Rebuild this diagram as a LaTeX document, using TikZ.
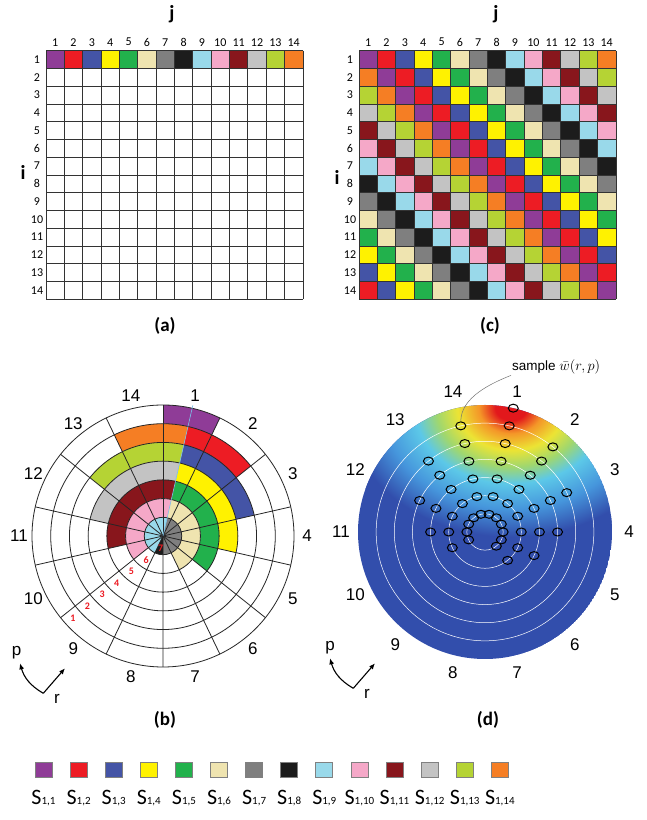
\documentclass[tikz,border=0pt]{standalone}
\usepackage{fontspec}
\setmainfont{Carlito}
\newfontfamily\labelfont{Liberation Sans}
\usepackage{xcolor}
\usepackage{tikz}
\usetikzlibrary{positioning,arrows.meta,shapes.geometric}
% colours of the 14 symbols
\definecolor{sc1}{RGB}{143,60,151}
\definecolor{sc2}{RGB}{237,28,36}
\definecolor{sc3}{RGB}{68,84,166}
\definecolor{sc4}{RGB}{255,242,0}
\definecolor{sc5}{RGB}{34,177,76}
\definecolor{sc6}{RGB}{239,228,176}
\definecolor{sc7}{RGB}{127,127,127}
\definecolor{sc8}{RGB}{28,28,28}
\definecolor{sc9}{RGB}{153,217,234}
\definecolor{sc10}{RGB}{245,168,200}
\definecolor{sc11}{RGB}{136,22,28}
\definecolor{sc12}{RGB}{195,195,195}
\definecolor{sc13}{RGB}{181,211,52}
\definecolor{sc14}{RGB}{245,126,36}
% heat map
\definecolor{heatbg}{RGB}{50,78,172}
\definecolor{heatred}{RGB}{226,24,28}
\definecolor{heatorange}{RGB}{244,150,40}
\definecolor{heatyellow}{RGB}{236,228,52}
\definecolor{heatlime}{RGB}{160,215,110}
\definecolor{heatcyan}{RGB}{92,200,232}
\definecolor{heatsky}{RGB}{70,150,220}
\definecolor{splitblue}{RGB}{120,190,232}
\pgfdeclareradialshading{heatspot}{\pgfpoint{0bp}{0bp}}{color(0bp)=(heatred); color(2.2bp)=(heatred); color(4.5bp)=(heatorange); color(7.5bp)=(heatyellow); color(10.5bp)=(heatlime); color(13.5bp)=(heatcyan); color(18bp)=(heatsky); color(23bp)=(heatbg); color(50bp)=(heatbg)}

\newcommand\ringcell[5]{%
  \fill[#1] ({#4}:{#3}) arc[start angle={#4}, end angle={#5}, radius={#3}]
    -- ({#5}:{#2}) arc[start angle={#5}, end angle={#4}, radius={#2}] -- cycle;}

\begin{document}
\begin{tikzpicture}[x=1bp, y=1bp,
  gnum/.style={font=\fontsize{12bp}{13bp}\selectfont, inner sep=0pt},
  axname/.style={font=\fontsize{20bp}{22bp}\selectfont\bfseries, inner sep=0pt},
  panel/.style={font=\fontsize{19bp}{21bp}\selectfont\bfseries, inner sep=0pt},
  gline/.style={draw=black!80, line width=0.8bp},
  pline/.style={draw=black!85, line width=0.8bp},
  plabel/.style={font=\labelfont\fontsize{17bp}{19bp}\selectfont, inner sep=0pt},
  ringno/.style={font=\fontsize{10bp}{11bp}\selectfont\bfseries, text=sc2, inner sep=0pt},
  sample/.style={ellipse, draw=black, line width=1bp, minimum width=10bp, minimum height=8bp, inner sep=0pt},
  rpaxis/.style={-{Latex[length=6bp,width=5bp]}, line width=1.1bp},
  legbox/.style={draw=black!50, line width=0.7bp, minimum width=17bp, minimum height=15bp, inner sep=0pt},
  legtext/.style={font=\fontsize{22bp}{24bp}\selectfont, inner sep=0pt, anchor=base}]
\fill[white] (0,0) rectangle (647,820);
\useasboundingbox (0,0) rectangle (647,820);

% (a) first row only
\begin{scope}[shift={(46,769.3)}]
  \foreach \j in {1,...,14}
    \fill[sc\j] ({(\j-1)*18.35},0) rectangle ++(18.35,-17.75);
  \foreach \k in {0,...,14} {
    \draw[gline] ({\k*18.35},0) -- ++(0,-248.5);
    \draw[gline] (0,{-\k*17.75}) -- ++(256.9,0);
  }
  \foreach \j in {1,...,14}
    \node[gnum] (acol\j) at ({(\j-0.5)*18.35},8.5) {\j};
  \foreach \i in {1,...,14}
    \node[gnum] (arow\i) at (-9,{-(\i-0.5)*17.75}) {\i};
\end{scope}
\node[axname] (aj) at (172,806) {j};
\node[axname] (ai) at (23,648) {i};
\node[panel] (pa) at (165,494) {(a)};

% (c) latin square
\begin{scope}[shift={(359,769.3)}]
  \foreach \i in {1,...,14}
    \foreach \j in {1,...,14} {
      \pgfmathtruncatemacro\ci{mod(\j-\i+14,14)+1}
      \fill[sc\ci] ({(\j-1)*18.35},{-(\i-1)*17.75}) rectangle ++(18.35,-17.75);
    }
  \foreach \k in {0,...,14} {
    \draw[gline] ({\k*18.35},0) -- ++(0,-248.5);
    \draw[gline] (0,{-\k*17.75}) -- ++(256.9,0);
  }
  \foreach \j in {1,...,14}
    \node[gnum] (ccol\j) at ({(\j-0.5)*18.35},8.5) {\j};
  \foreach \i in {1,...,14}
    \node[gnum] (crow\i) at (-9,{-(\i-0.5)*17.75}) {\i};
\end{scope}
\node[axname] (cj) at (496,806) {j};
\node[axname] (ci) at (337,643) {i};
\node[panel] (pc) at (490,494) {(c)};

% (b) polar layout
\begin{scope}[shift={(163,284)}]
  \foreach \r in {1,...,7} {
    \pgfmathsetmacro\ro{131-(\r-1)*18.714}
    \pgfmathsetmacro\ri{max(131-\r*18.714,0.01)}
    \pgfmathtruncatemacro\lc{mod(15-\r,14)+1}
    \ringcell{sc\r}{\ri}{\ro}{77.143}{90-\r*25.714}
    \ringcell{sc\lc}{\ri}{\ro}{77.143}{90+(\r-1)*25.714}
  }
  \ringcell{sc8}{0.01}{18.714}{-90}{-115.714}
  \foreach \k in {1,...,7}
    \draw[pline] (0,0) circle[radius=\k*18.714];
  \foreach \k in {0,...,13}
    \draw[pline] (0,0) -- ({90-\k*25.714}:131);
  \draw[splitblue, line width=0.6bp] (0,0) -- (77.143:134);
  \foreach \p in {1,...,14}
    \node[plabel] (bsec\p) at ({90-(\p-0.5)*25.714}:144) {\p};
  \foreach \r in {1,...,7}
    \node[ringno, shift={(308.57:8)}] (bring\r) at (218.57:{131-(\r-0.5)*18.714}) {\r};
\end{scope}
\node[panel] (pb) at (165,100) {(b)};
% r / p directions
\coordinate (bv) at (43.3,126.7);
\coordinate (bp) at (20,156.7);
\coordinate (br) at (65,151.7);
\draw[rpaxis] (bv) to[bend left=22] (bp);
\draw[rpaxis] (bv) -- (br);
\node[plabel] (bplbl) at (16.7,167) {p};
\node[plabel] (brlbl) at (57,121) {r};

% (d) measured field
\begin{scope}[shift={(485,288)}]
  \begin{scope}
    \clip (0,0) circle[radius=127];
    \fill[heatbg] (0,0) circle[radius=127];
    \shade[shading=heatspot] (26,124) ellipse[x radius=178, y radius=140];
  \end{scope}
  \foreach \k in {1,...,6}
    \draw[white, line width=0.5bp] (0,0) circle[radius=\k*18.143];
  \foreach \k/\m in {1/5,2/5,3/4,4/3,5/2,6/1,7/0} {
    \pgfmathtruncatemacro\n{2*\m}
    \foreach \e in {0,...,\n} {
      \pgfmathtruncatemacro\p{mod(\e-\m+14,14)+1}
      \node[sample] (s-\k-\p) at ({77.143-(\e-\m)*25.714}:{\k*18.143}) {};
    }
  }
  \foreach \p in {1,...,14}
    \node[plabel] (dsec\p) at ({90-(\p-0.5)*25.714}:144) {\p};
  \node[font=\labelfont\fontsize{13.5bp}{15bp}\selectfont, inner sep=1pt, anchor=west] (smplbl) at (26,165) {sample $\bar{w}(r,p)$};
  \draw[black!55, line width=0.5bp] (s-6-14.north) .. controls +(0,24) and +(-20,-8) .. (smplbl.south west);
\end{scope}
\node[panel] (pd) at (488,100) {(d)};
\coordinate (dv) at (353.3,131.7);
\coordinate (dp) at (330,161.7);
\coordinate (dr) at (375,156.7);
\draw[rpaxis] (dv) to[bend left=22] (dp);
\draw[rpaxis] (dv) -- (dr);
\node[plabel] (dplbl) at (330,172) {p};
\node[plabel] (drlbl) at (367,126) {r};

% legend
\foreach \n in {1,...,14} {
  \node[legbox, fill=sc\n] (key\n) at ({43.5+(\n-1)*35.1},49.8) {};
  \node[legtext] (keylbl\n) at ({43.5+(\n-1)*35.1},15) {S{\fontsize{11bp}{12bp}\selectfont 1,\n}};
}
\end{tikzpicture}
\end{document}
